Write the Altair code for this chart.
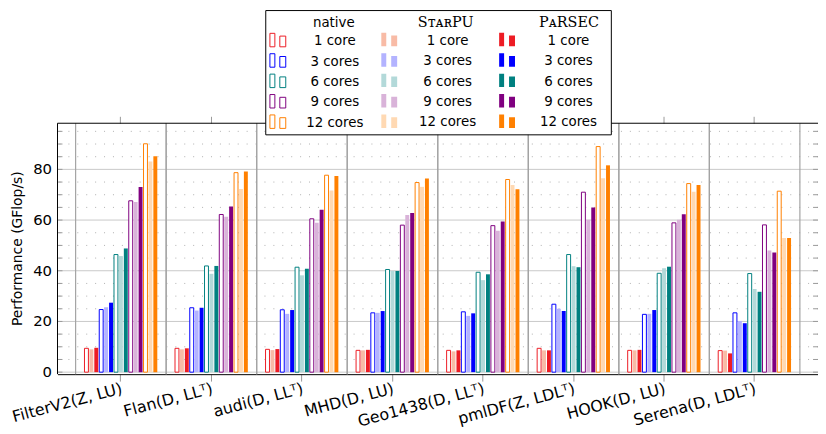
import altair as alt
import pandas as pd

# ---------------- data ----------------
groups = ["FilterV2(Z, LU)", "Flan(D, LLᵀ)", "audi(D, LLᵀ)", "MHD(D, LU)",
          "Geo1438(D, LLᵀ)", "pmlDF(Z, LDLᵀ)", "HOOK(D, LU)", "Serena(D, LDLᵀ)"]
core_labels = ["1 core", "3 cores", "6 cores", "9 cores", "12 cores"]
impls = ["native", "StarPU", "PaRSEC"]

# values per matrix, for 1, 3, 6, 9, 12 cores
native = [
    [9.4, 24.7, 46.4, 67.6, 90.1],
    [9.4, 25.4, 41.9, 62.2, 78.7],
    [9.0, 24.6, 41.4, 60.5, 77.7],
    [8.6, 23.4, 40.5, 58.0, 74.8],
    [8.6, 23.8, 39.4, 57.8, 76.0],
    [9.4, 26.8, 46.4, 71.0, 89.0],
    [8.6, 22.8, 39.0, 58.9, 74.4],
    [8.5, 23.4, 38.9, 58.1, 71.4],
]
starpu = [
    [9.0, 25.6, 45.8, 67.1, 83.1],
    [9.0, 24.3, 38.8, 61.3, 72.3],
    [8.7, 23.0, 38.2, 58.9, 71.7],
    [8.6, 23.4, 39.9, 62.0, 73.1],
    [8.2, 22.2, 36.3, 55.8, 73.8],
    [8.6, 25.0, 41.8, 60.1, 76.5],
    [8.6, 23.0, 41.0, 60.1, 71.2],
    [8.5, 20.2, 32.8, 48.0, 52.9],
]
parsec = [
    [9.6, 27.4, 48.8, 73.0, 85.2],
    [9.4, 25.4, 41.9, 65.4, 79.2],
    [9.1, 24.5, 40.8, 64.1, 77.4],
    [8.8, 24.1, 39.9, 62.8, 76.4],
    [8.6, 23.2, 38.6, 59.4, 72.2],
    [8.6, 24.1, 41.4, 65.0, 81.6],
    [8.8, 24.5, 41.6, 62.3, 73.8],
    [7.4, 19.3, 31.7, 47.2, 52.9],
]

major_vals = [0, 20, 40, 60, 80]
major_labels = ["0", "20", "40", "60", "80"]
minor_vals = [5, 10, 15, 25, 30, 35, 45, 50, 55, 65, 70, 75, 85, 90, 95]
tick_vals = sorted(major_vals + minor_vals)

solid = ["#ed1c24", "#0000ff", "#008080", "#800080", "#ff8000"]
light = ["#f8bba6", "#b3b3ff", "#b3d9d9", "#d9b3d9", "#ffd9b3"]

rows = []
for gi, g in enumerate(groups):
    for ci, c in enumerate(core_labels):
        for ii, (impl, arr) in enumerate(zip(impls, [native, starpu, parsec])):
            rows.append(dict(group=g, cores=c, impl=impl,
                             value=arr[gi][ci], slot=f"{ci}-{ii}"))
df = pd.DataFrame(rows)
slot_order = ["pad-l"] + [f"{ci}-{ii}" for ci in range(5) for ii in range(3)] + ["pad-r"]

# ---------------- layout ----------------
W = 768
H = 253.4
FONT = "DejaVu Sans"
ICON = "M-1,-1H-0.375V0.7H-1Z M0.25,-0.65H1V0.7H0.25Z"
Y_MIN, Y_MAX = -0.8, 98.2

yscale = alt.Scale(domain=[Y_MIN, Y_MAX], nice=False)
xscale = alt.Scale(paddingInner=0, paddingOuter=0.2)
xoff = alt.XOffset("slot:N", sort=slot_order,
                   scale=alt.Scale(domain=slot_order, paddingInner=0.2, paddingOuter=0.8))

base = alt.Chart(df)

x_bottom = alt.X("group:N", sort=groups, scale=xscale, title=None,
                 axis=alt.Axis(orient="bottom", labelAngle=-15, labelAlign="right",
                               labelBaseline="top", labelPadding=-1, labelOffset=-1,
                               tickSize=7, tickColor="#999999", domainColor="black",
                               labelFont=FONT, labelFontSize=16, labelColor="black",
                               grid=False, zindex=0))
x_top = alt.X("group:N", sort=groups, scale=xscale, title=None,
              axis=alt.Axis(orient="top", labels=False, tickSize=7, tickColor="#999999",
                            domain=False, grid=False, zindex=0))
x_plain = alt.X("group:N", sort=groups, scale=xscale, axis=None)
y_plain = alt.Y("value:Q", scale=yscale, axis=None)
y_v = alt.Y("v:Q", scale=yscale, axis=None)


def legend(x, y, offset, stroke_w, row_pad):
    return alt.Legend(title=None, orient="none", legendX=x, legendY=y,
                      direction="vertical", symbolType=ICON, symbolSize=256,
                      symbolStrokeWidth=stroke_w, symbolFillColor="white",
                      labelAlign="center", labelOffset=offset, labelFont=FONT,
                      labelFontSize=13.5, labelColor="black", rowPadding=row_pad,
                      padding=0, zindex=2)


native_bars = base.transform_filter(alt.datum.impl == "native").mark_bar(
    fill="white", strokeWidth=1
).encode(
    x=x_bottom, xOffset=xoff, y=y_plain, y2=alt.datum(0),
    stroke=alt.Stroke("cores:N", sort=core_labels,
                      scale=alt.Scale(domain=core_labels, range=solid),
                      legend=legend(214, -91.3, 49, 1, 1.6)),
)

starpu_bars = base.transform_filter(alt.datum.impl == "StarPU").mark_bar().encode(
    x=x_plain, xOffset=xoff, y=y_plain, y2=alt.datum(0),
    fill=alt.Fill("cores:N", sort=core_labels,
                  scale=alt.Scale(domain=core_labels, range=light),
                  legend=legend(327, -91.3, 51, 0, 5.6)),
)

parsec_bars = base.transform_filter(alt.datum.impl == "PaRSEC").mark_bar().encode(
    x=x_plain, xOffset=xoff, y=y_plain, y2=alt.datum(0),
    fill=alt.Fill("cores:N", sort=core_labels,
                  scale=alt.Scale(domain=core_labels, range=solid),
                  legend=legend(446, -91.3, 54, 0, 5.6)),
)

# group centres: carries the top axis ticks
groups_df = pd.DataFrame({"group": groups})
top_axis_layer = alt.Chart(groups_df).mark_rule(opacity=0).encode(
    x=x_top, y=alt.value(0), y2=alt.value(0))

# grids
minor_df = pd.DataFrame({"v": minor_vals})
minor_grid = alt.Chart(minor_df).mark_rule(color="#b0b0b0", strokeDash=[1, 8], strokeWidth=1).encode(
    y=y_v)
major_df = pd.DataFrame({"v": major_vals, "lab": major_labels})
major_grid = alt.Chart(major_df).mark_rule(color="#c8c8c8", strokeWidth=1).encode(y=y_v)

# y axis: labels, title, domain
y_labels = alt.Chart(major_df).mark_text(align="right", baseline="middle", font=FONT,
                                         fontSize=15, color="black").encode(
    y=y_v, x=alt.value(-5.5), text="lab:N")
y_title = alt.Chart(pd.DataFrame({"t": ["Performance (GFlop/s)"]})).mark_text(
    angle=270, align="center", baseline="middle", font=FONT, fontSize=14, color="black"
).encode(x=alt.value(-40), y=alt.value(H / 2), text="t:N")

one = pd.DataFrame({"k": [0]})
left_domain = alt.Chart(one).mark_rule(color="black").encode(
    x=alt.value(0), y=alt.value(0), y2=alt.value(H))
top_domain = alt.Chart(one).mark_rule(color="black").encode(
    x=alt.value(0), x2=alt.value(W), y=alt.value(0))

# inward y ticks (left and right)
ticks_df = pd.DataFrame({"v": tick_vals})
ticks_left = alt.Chart(ticks_df).mark_rule(color="#999999").encode(
    y=y_v, x=alt.value(0), x2=alt.value(5))
ticks_right = alt.Chart(ticks_df).mark_rule(color="#999999").encode(
    y=y_v, x=alt.value(W - 5), x2=alt.value(W))

# group separators
sep_start = alt.Chart(groups_df).mark_rule(color="#a3a3a3", strokeWidth=1.2).encode(
    x=alt.X("group:N", sort=groups, scale=xscale, bandPosition=0, axis=None))
sep_end = alt.Chart(groups_df).mark_rule(color="#a3a3a3", strokeWidth=1.2).encode(
    x=alt.X("group:N", sort=groups, scale=xscale, bandPosition=1, axis=None))

# legend frame (white, drawn over the top frame line) and headers
BX0, BX1, BY0, BY1 = 210.3, 559.3, -113.8, 11.7
box = alt.Chart(one).mark_rect(fill="white", stroke="black", strokeWidth=1).encode(
    x=alt.value(BX0), x2=alt.value(BX1), y=alt.value(BY0), y2=alt.value(BY1))

h_native = alt.Chart(one).mark_text(text="native", font=FONT, fontSize=13.5, color="black",
                                    align="center", baseline="middle").encode(
    x=alt.value(279), y=alt.value(-101.5))
h_starpu = alt.Chart(one).mark_text(text="SᴛᴀʀPU", font="DejaVu Serif", fontSize=14.5,
                                    color="black", align="center", baseline="middle").encode(
    x=alt.value(392), y=alt.value(-101.5))
h_parsec = alt.Chart(one).mark_text(text="PᴀRSEC", font="DejaVu Serif", fontSize=14.5,
                                    color="black", align="center", baseline="middle").encode(
    x=alt.value(516.5), y=alt.value(-101.5))

chart = alt.layer(
    top_axis_layer, major_grid, minor_grid, ticks_left, ticks_right, sep_start, sep_end,
    left_domain, top_domain, y_labels, y_title,
    native_bars, starpu_bars, parsec_bars,
    box, h_native, h_starpu, h_parsec,
).resolve_scale(
    fill="independent", stroke="independent"
).properties(
    width=W, height=H,
    autosize=alt.AutoSizeParams(type="none"),
    padding={"left": 50, "top": 114.3, "right": 0, "bottom": 56},
).configure_view(stroke="transparent")

chart.save("out.html", embed_options={"renderer": "svg", "actions": False})
